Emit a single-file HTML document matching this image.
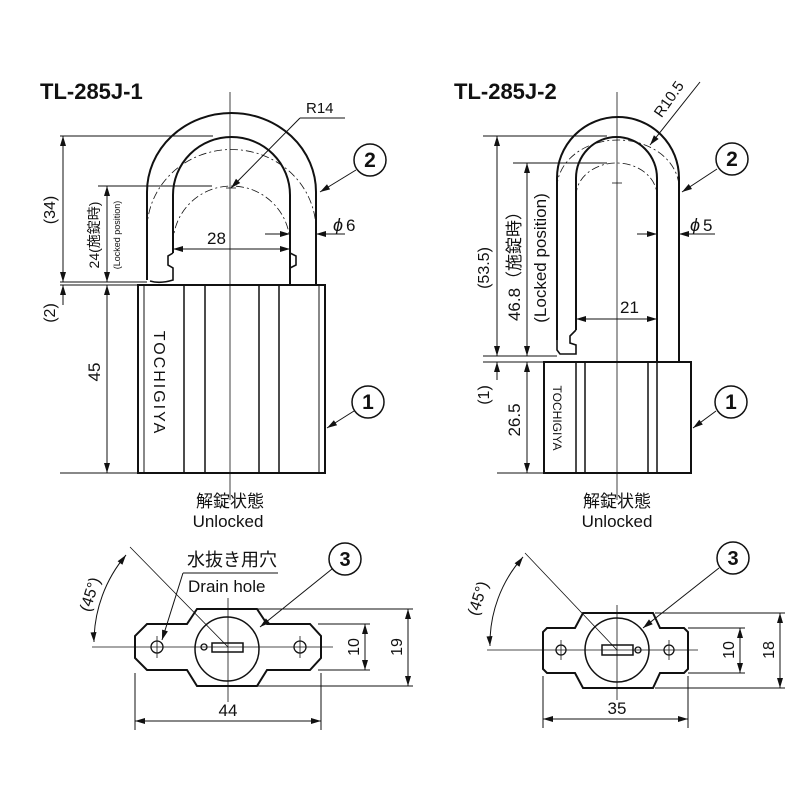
<!DOCTYPE html>
<html><head><meta charset="utf-8"><style>
html,body{margin:0;padding:0;background:#fff;}
svg{display:block;}
text{font-family:"Liberation Sans","Noto Sans CJK JP",sans-serif;fill:#111;}
</style></head><body>
<svg width="800" height="800" viewBox="0 0 800 800" xmlns="http://www.w3.org/2000/svg">
<g fill="none" stroke="#111" stroke-width="1">
<!-- ============ LEFT LOCK ============ -->
<line x1="230" y1="92" x2="230" y2="500" stroke-width="0.8"/>
<path d="M147,280 L147,192 A84.5 79 0 0 1 316,192 L316,285" stroke-width="2"/>
<path d="M173,253 L173,195 A58.5 58 0 0 1 290,195 L290,285" stroke-width="2"/>
<path d="M173,253 L168,256 L168,265 L173,268 L173,280 Q160,284 150,281" stroke-width="1.6"/>
<path d="M290,253 L296,256 L296,265 L290,268" stroke-width="1.6"/>
<path d="M147,230 A84 80 0 0 1 316,230" stroke-dasharray="8,3,2,3" stroke-width="0.8"/>
<path d="M173,244 A58.5 58 0 0 1 290,244" stroke-dasharray="8,3,2,3" stroke-width="0.8"/>
<line x1="226" y1="188" x2="236" y2="188" stroke-width="0.8"/>
<rect x="138" y="285" width="187" height="188" stroke-width="2"/>
<line x1="144" y1="285" x2="144" y2="473"/>
<line x1="184" y1="285" x2="184" y2="473" stroke-width="1.5"/>
<line x1="205" y1="285" x2="205" y2="473" stroke-width="1.5"/>
<line x1="259" y1="285" x2="259" y2="473" stroke-width="1.5"/>
<line x1="279" y1="285" x2="279" y2="473" stroke-width="1.5"/>
<line x1="319" y1="285" x2="319" y2="473"/>
<line x1="231" y1="188" x2="300" y2="118"/>
<line x1="300" y1="118" x2="345" y2="118"/>
<line x1="60" y1="136" x2="213" y2="136"/>
<line x1="98" y1="186" x2="212" y2="186"/>
<line x1="60" y1="282" x2="147" y2="282"/>
<line x1="60" y1="285" x2="138" y2="285"/>
<line x1="60" y1="473" x2="138" y2="473"/>
<line x1="63" y1="136" x2="63" y2="282"/>
<line x1="107" y1="186" x2="107" y2="282"/>
<line x1="63" y1="305" x2="63" y2="285"/>
<line x1="107" y1="285" x2="107" y2="473"/>
<line x1="173" y1="249" x2="290" y2="249"/>
<line x1="265" y1="234" x2="290" y2="234"/>
<line x1="345" y1="234" x2="316" y2="234"/>
<circle cx="370" cy="160" r="16" stroke-width="1.5"/>
<line x1="356" y1="170" x2="320" y2="192"/>
<circle cx="368" cy="402" r="16" stroke-width="1.5"/>
<line x1="354" y1="411" x2="327" y2="428"/>

<!-- ============ RIGHT LOCK ============ -->
<line x1="617" y1="92" x2="617" y2="500" stroke-width="0.8"/>
<path d="M557,340 L557,178 A61 61 0 0 1 679,178 L679,362" stroke-width="2"/>
<path d="M576,330 L576,178 A40.5 41 0 0 1 657,178 L657,362" stroke-width="2"/>
<path d="M576,330 L570,336 L570,343 L576,345 L576,354 L560,354 L557,350 L557,340" stroke-width="1.6"/>
<path d="M557,188 A61 48 0 0 1 679,188" stroke-dasharray="8,3,2,3" stroke-width="0.8"/>
<path d="M576,196 A40.5 33 0 0 1 657,196" stroke-dasharray="8,3,2,3" stroke-width="0.8"/>
<line x1="612" y1="183" x2="622" y2="183" stroke-width="0.8"/>
<rect x="544" y="362" width="147" height="111" stroke-width="2"/>
<line x1="576" y1="362" x2="576" y2="473" stroke-width="1.5"/>
<line x1="585" y1="362" x2="585" y2="473" stroke-width="1.5"/>
<line x1="648" y1="362" x2="648" y2="473" stroke-width="1.5"/>
<line x1="657" y1="362" x2="657" y2="473" stroke-width="1.5"/>
<line x1="650" y1="145" x2="700" y2="82"/>
<line x1="483" y1="136" x2="607" y2="136"/>
<line x1="513" y1="163" x2="607" y2="163"/>
<line x1="483" y1="356" x2="557" y2="356"/>
<line x1="483" y1="362" x2="544" y2="362"/>
<line x1="497" y1="473" x2="544" y2="473"/>
<line x1="497" y1="136" x2="497" y2="356"/>
<line x1="527" y1="163" x2="527" y2="356"/>
<line x1="497" y1="380" x2="497" y2="362"/>
<line x1="527" y1="362" x2="527" y2="473"/>
<line x1="576" y1="319" x2="657" y2="319"/>
<line x1="637" y1="234" x2="657" y2="234"/>
<line x1="715" y1="234" x2="679" y2="234"/>
<circle cx="732" cy="159" r="16" stroke-width="1.5"/>
<line x1="717" y1="169" x2="682" y2="192"/>
<circle cx="731" cy="402" r="16" stroke-width="1.5"/>
<line x1="716" y1="411" x2="693" y2="428"/>

<!-- ============ BOTTOM LEFT ============ -->
<line x1="92" y1="647" x2="333" y2="647" stroke-width="0.8"/>
<line x1="228" y1="598" x2="228" y2="702" stroke-width="0.8"/>
<path d="M147,624 L187,624 L197,609 L257,609 L267,624 L310,624 L321,636 L321,658 L310,670 L267,670 L257,686 L197,686 L187,670 L147,670 L135,658 L135,636 Z" stroke-width="2"/>
<circle cx="227" cy="649" r="32" stroke-width="1.5"/>
<rect x="212" y="643" width="31" height="9" stroke-width="1.5"/>
<circle cx="204" cy="647" r="3" stroke-width="1.3"/>
<circle cx="157" cy="647" r="6" stroke-width="1.3"/>
<circle cx="300" cy="647" r="6" stroke-width="1.3"/>
<line x1="157" y1="636" x2="157" y2="658" stroke-width="0.8"/>
<line x1="300" y1="636" x2="300" y2="658" stroke-width="0.8"/>
<line x1="130" y1="547" x2="228" y2="647" stroke-width="0.8"/>
<path d="M94,642 A135 135 0 0 1 126,555"/>
<line x1="183" y1="573" x2="278" y2="573"/>
<line x1="183" y1="573" x2="162" y2="640"/>
<circle cx="345" cy="559" r="16" stroke-width="1.5"/>
<line x1="332" y1="569" x2="260" y2="627"/>
<line x1="238" y1="609" x2="413" y2="609"/>
<line x1="238" y1="686" x2="413" y2="686"/>
<line x1="318" y1="624" x2="370" y2="624"/>
<line x1="318" y1="670" x2="370" y2="670"/>
<line x1="365" y1="624" x2="365" y2="670"/>
<line x1="408" y1="609" x2="408" y2="686"/>
<line x1="135" y1="673" x2="135" y2="730"/>
<line x1="321" y1="673" x2="321" y2="730"/>
<line x1="135" y1="721" x2="321" y2="721"/>

<!-- ============ BOTTOM RIGHT ============ -->
<line x1="487" y1="650" x2="698" y2="650" stroke-width="0.8"/>
<line x1="617" y1="605" x2="617" y2="700" stroke-width="0.8"/>
<path d="M547,628 L575,628 L583,613 L653,613 L660,628 L684,628 L688,632 L688,669 L684,673 L660,673 L653,688 L583,688 L575,673 L547,673 L543,669 L543,632 Z" stroke-width="2"/>
<circle cx="617" cy="650" r="32" stroke-width="1.5"/>
<rect x="602" y="645" width="31" height="10" stroke-width="1.5"/>
<circle cx="638" cy="650" r="3" stroke-width="1.3"/>
<circle cx="561" cy="650" r="5" stroke-width="1.3"/>
<circle cx="669" cy="650" r="5" stroke-width="1.3"/>
<line x1="561" y1="640" x2="561" y2="660" stroke-width="0.8"/>
<line x1="669" y1="640" x2="669" y2="660" stroke-width="0.8"/>
<line x1="525" y1="553" x2="617" y2="650" stroke-width="0.8"/>
<path d="M490,646 A130 130 0 0 1 523,557"/>
<circle cx="733" cy="558" r="16" stroke-width="1.5"/>
<line x1="719" y1="568" x2="643" y2="628"/>
<line x1="655" y1="613" x2="785" y2="613"/>
<line x1="655" y1="688" x2="785" y2="688"/>
<line x1="688" y1="628" x2="745" y2="628"/>
<line x1="688" y1="673" x2="745" y2="673"/>
<line x1="740" y1="628" x2="740" y2="673"/>
<line x1="780" y1="613" x2="780" y2="688"/>
<line x1="543" y1="676" x2="543" y2="728"/>
<line x1="688" y1="676" x2="688" y2="728"/>
<line x1="543" y1="719" x2="688" y2="719"/>
</g>

<!-- arrowheads -->
<g fill="#111" stroke="none">
<polygon points="231,188 240.2,183 236,178.8"/>
<polygon points="63,136 60,146 66,146"/><polygon points="63,282 60,272 66,272"/>
<polygon points="107,186 104,196 110,196"/><polygon points="107,282 104,272 110,272"/>
<polygon points="63,285 60,295 66,295"/>
<polygon points="107,285 104,295 110,295"/><polygon points="107,473 104,463 110,463"/>
<polygon points="173,249 183,246 183,252"/><polygon points="290,249 280,246 280,252"/>
<polygon points="290,234 280,231 280,237"/><polygon points="316,234 326,231 326,237"/>
<polygon points="320,192 330.1,189.4 327,184.2"/>
<polygon points="327,428 337.1,425.2 333.9,420.2"/>

<polygon points="650,145 658.6,139 653.9,135.3"/>
<polygon points="497,136 494,146 500,146"/><polygon points="497,356 494,346 500,346"/>
<polygon points="527,163 524,173 530,173"/><polygon points="527,356 524,346 530,346"/>
<polygon points="497,362 494,372 500,372"/>
<polygon points="527,362 524,372 530,372"/><polygon points="527,473 524,463 530,463"/>
<polygon points="576,319 586,316 586,322"/><polygon points="657,319 647,316 647,322"/>
<polygon points="657,234 647,231 647,237"/><polygon points="679,234 689,231 689,237"/>
<polygon points="682,192 692,189 688.7,184"/>
<polygon points="693,428 702.8,424.5 699.3,419.7"/>

<polygon points="94,642 90.5,632.5 96.5,632"/>
<polygon points="126,555 122.4,564.8 117.6,561.2"/>
<polygon points="162,640 167.9,631.4 162.1,629.6"/>
<polygon points="260,627 269.7,623 265.9,618.4"/>
<polygon points="365,624 362,634 368,634"/><polygon points="365,670 362,660 368,660"/>
<polygon points="408,609 405,619 411,619"/><polygon points="408,686 405,676 411,676"/>
<polygon points="135,721 145,718 145,724"/><polygon points="321,721 311,718 311,724"/>

<polygon points="490,646 486.5,636.5 492.5,636"/>
<polygon points="523,557 519.4,566.8 514.6,563.2"/>
<polygon points="643,628 652.7,624.2 649,619.4"/>
<polygon points="740,628 737,638 743,638"/><polygon points="740,673 737,663 743,663"/>
<polygon points="780,613 777,623 783,623"/><polygon points="780,688 777,678 783,678"/>
<polygon points="543,719 553,716 553,722"/><polygon points="688,719 678,716 678,722"/>
</g>

<text x="40" y="99" font-size="22" font-weight="bold">TL-285J-1</text>
<text x="454" y="99" font-size="22" font-weight="bold">TL-285J-2</text>
<text x="306" y="113" font-size="15">R14</text>
<text x="207" y="244" font-size="17">28</text>
<text x="333" y="231" font-size="18" font-style="italic">ϕ</text><text x="346" y="231" font-size="17">6</text>
<text x="370" y="167" font-size="21" font-weight="bold" text-anchor="middle">2</text>
<text x="368" y="409" font-size="21" font-weight="bold" text-anchor="middle">1</text>
<text transform="translate(55,210) rotate(-90)" font-size="16" text-anchor="middle">(34)</text>
<text transform="translate(99,235) rotate(-90)" font-size="14" text-anchor="middle">24(施錠時)</text>
<text transform="translate(120,235) rotate(-90)" font-size="9" text-anchor="middle">(Locked position)</text>
<text transform="translate(55,313) rotate(-90)" font-size="16" text-anchor="middle">(2)</text>
<text transform="translate(100,372) rotate(-90)" font-size="17" text-anchor="middle">45</text>
<text transform="translate(154,383) rotate(90)" font-size="16" text-anchor="middle" letter-spacing="2">TOCHIGIYA</text>
<text x="230" y="507" font-size="17" text-anchor="middle">解錠状態</text>
<text x="228" y="527" font-size="17" text-anchor="middle">Unlocked</text>

<text transform="translate(673,102) rotate(-55)" font-size="15" text-anchor="middle">R10.5</text>
<text x="620" y="313" font-size="17">21</text>
<text x="690" y="231" font-size="18" font-style="italic">ϕ</text><text x="703" y="231" font-size="17">5</text>
<text x="732" y="166" font-size="21" font-weight="bold" text-anchor="middle">2</text>
<text x="731" y="409" font-size="21" font-weight="bold" text-anchor="middle">1</text>
<text transform="translate(489,268) rotate(-90)" font-size="16" text-anchor="middle">(53.5)</text>
<text transform="translate(520,262) rotate(-90)" font-size="17" text-anchor="middle">46.8（施錠時）</text>
<text transform="translate(546,258) rotate(-90)" font-size="17" text-anchor="middle">(Locked position)</text>
<text transform="translate(489,395) rotate(-90)" font-size="16" text-anchor="middle">(1)</text>
<text transform="translate(520,420) rotate(-90)" font-size="17" text-anchor="middle">26.5</text>
<text transform="translate(553,418) rotate(90)" font-size="12" text-anchor="middle">TOCHIGIYA</text>
<text x="617" y="507" font-size="17" text-anchor="middle">解錠状態</text>
<text x="617" y="527" font-size="17" text-anchor="middle">Unlocked</text>

<text transform="translate(95,596) rotate(-72)" font-size="16" text-anchor="middle">(45°)</text>
<text x="187" y="566" font-size="18">水抜き用穴</text>
<text x="188" y="592" font-size="17">Drain hole</text>
<text x="345" y="566" font-size="20" font-weight="bold" text-anchor="middle">3</text>
<text transform="translate(359,647) rotate(-90)" font-size="16" text-anchor="middle">10</text>
<text transform="translate(402,647) rotate(-90)" font-size="16" text-anchor="middle">19</text>
<text x="228" y="716" font-size="17" text-anchor="middle">44</text>

<text transform="translate(483,600) rotate(-72)" font-size="16" text-anchor="middle">(45°)</text>
<text x="733" y="565" font-size="20" font-weight="bold" text-anchor="middle">3</text>
<text transform="translate(734,650) rotate(-90)" font-size="16" text-anchor="middle">10</text>
<text transform="translate(774,650) rotate(-90)" font-size="16" text-anchor="middle">18</text>
<text x="617" y="714" font-size="17" text-anchor="middle">35</text>
</svg>
</body></html>
